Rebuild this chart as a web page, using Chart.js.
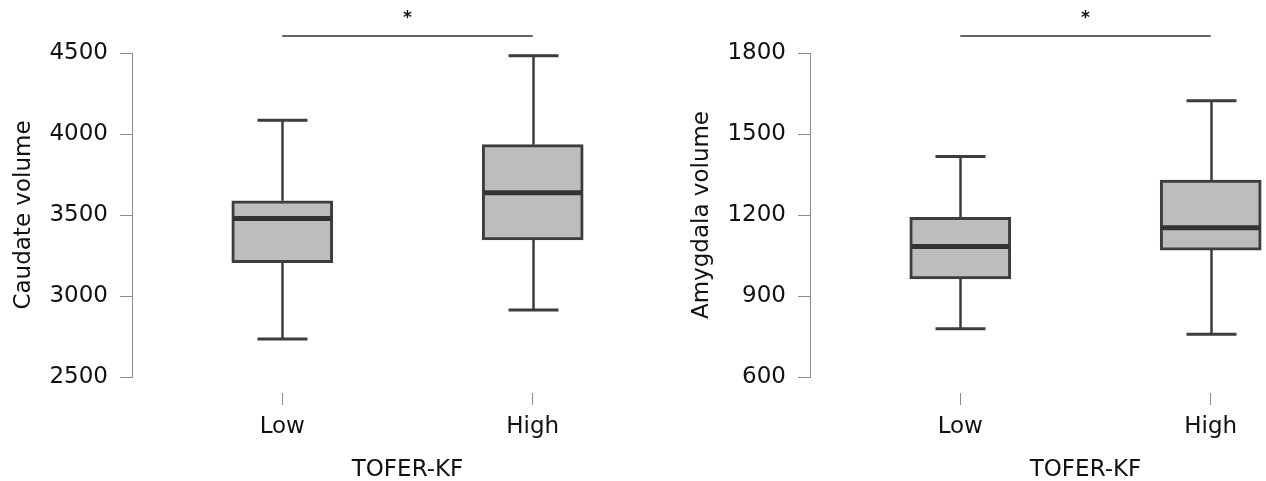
<!DOCTYPE html>
<html>
<head>
<meta charset="utf-8">
<script src="https://cdn.jsdelivr.net/npm/chart.js@4/dist/chart.umd.min.js"></script>
<style>
  html, body { margin: 0; padding: 0; background: #ffffff; overflow: hidden; width: 1266px; height: 481px; }
  .panel { position: absolute; top: 0; }
  #panel-left { left: 0; }
  #panel-right { left: 678px; }
</style>
</head>
<body>
<div class="panel" id="panel-left"><canvas id="caudateChart" width="683" height="481"></canvas></div>
<div class="panel" id="panel-right"><canvas id="amygdalaChart" width="683" height="481"></canvas></div>
<script>
// groups on the x axis
const groups = ["Low", "High"];
const xTitle = "TOFER-KF";

// caudate volume (box plot stats per group)
const caudateMin = [2735, 2914];
const caudateQ1 = [3205, 3346];
const caudateMedian = [3478, 3637];
const caudateQ3 = [3588, 3934];
const caudateMax = [4085, 4483];
const caudateTicks = [2500, 3000, 3500, 4000, 4500];

// amygdala volume
const amygdalaMin = [779, 758];
const amygdalaQ1 = [963, 1070];
const amygdalaMedian = [1083, 1153];
const amygdalaQ3 = [1191, 1329];
const amygdalaMax = [1417, 1623];
const amygdalaTicks = [600, 900, 1200, 1500, 1800];

Chart.defaults.font.family = "'DejaVu Sans', sans-serif";
Chart.defaults.font.size = 23;
Chart.defaults.color = "#111111";

const LINE = "#3d3d3d";
const AXIS = "#8c8c8c";

// whiskers, medians and the significance bracket, placed via the chart scales
function boxPlugin(stats) {
    return {
        id: "boxParts",
        beforeDatasetsDraw(chart) {
            const { ctx, scales: { x, y } } = chart;
            ctx.save();
            ctx.strokeStyle = LINE;
            ctx.lineCap = "butt";
            stats.min.forEach((lo, i) => {
                const px = Math.round(x.getPixelForValue(i + 1)) + 0.5;
                const yMax = y.getPixelForValue(stats.max[i]);
                const yMin = y.getPixelForValue(lo);
                ctx.lineWidth = 2.5;
                ctx.beginPath();
                ctx.moveTo(px, yMax);
                ctx.lineTo(px, y.getPixelForValue(stats.q3[i]));
                ctx.moveTo(px, y.getPixelForValue(stats.q1[i]));
                ctx.lineTo(px, yMin);
                ctx.stroke();
                ctx.lineWidth = 3;
                ctx.beginPath();
                ctx.moveTo(px - 25, yMax);
                ctx.lineTo(px + 25, yMax);
                ctx.moveTo(px - 25, yMin);
                ctx.lineTo(px + 25, yMin);
                ctx.stroke();
            });
            ctx.restore();
        },
        afterDatasetsDraw(chart) {
            const { ctx, scales: { x, y } } = chart;
            ctx.save();
            ctx.strokeStyle = "#333333";
            ctx.lineWidth = 5;
            stats.median.forEach((m, i) => {
                const px = x.getPixelForValue(i + 1);
                const py = y.getPixelForValue(m);
                ctx.beginPath();
                ctx.moveTo(px - 49, py);
                ctx.lineTo(px + 49, py);
                ctx.stroke();
            });
            // significance bracket between the two groups
            const x1 = x.getPixelForValue(1);
            const x2 = x.getPixelForValue(2);
            const by = chart.chartArea.top - 17;
            ctx.strokeStyle = "#333333";
            ctx.lineWidth = 1.5;
            ctx.beginPath();
            ctx.moveTo(x1, by);
            ctx.lineTo(x2, by);
            ctx.stroke();
            ctx.fillStyle = "#111111";
            ctx.font = "bold 17px 'DejaVu Sans'";
            ctx.textAlign = "center";
            ctx.textBaseline = "middle";
            ctx.fillText("*", (x1 + x2) / 2, by - 17);
            ctx.restore();
        }
    };
}

function makeBoxChart(canvasId, yLabel, ticks, stats) {
    const ctx = document.getElementById(canvasId).getContext("2d");
    return new Chart(ctx, {
        type: "bar",
        data: {
            datasets: [{
                data: groups.map((g, i) => ({ x: i + 1, y: [stats.q1[i], stats.q3[i]] })),
                backgroundColor: "#bdbdbd",
                borderColor: LINE,
                borderWidth: 3,
                borderSkipped: false,
                barThickness: 101
            }]
        },
        options: {
            responsive: false,
            animation: false,
            events: [],
            layout: { padding: { top: 53, left: 0, right: 0, bottom: 0 } },
            plugins: {
                legend: { display: false },
                tooltip: { enabled: false }
            },
            scales: {
                x: {
                    type: "linear",
                    position: "bottom",
                    min: 0.4,
                    max: 2.6,
                    offset: false,
                    border: { display: false },
                    grid: {
                        offset: false,
                        drawOnChartArea: false,
                        color: AXIS,
                        tickLength: 28,
                        tickBorderDash: [0, 16, 12, 100]
                    },
                    afterBuildTicks: scale => {
                        scale.ticks = groups.map((g, i) => ({ value: i + 1 }));
                    },
                    afterFit: scale => { scale.height = 104; },
                    ticks: {
                        padding: 8,
                        maxRotation: 0,
                        callback: v => groups[v - 1]
                    },
                    title: {
                        display: true,
                        text: xTitle,
                        padding: { top: 0, bottom: -3 }
                    }
                },
                y: {
                    min: ticks[0],
                    max: ticks[ticks.length - 1],
                    border: { display: true, color: AXIS, width: 1 },
                    grid: {
                        drawOnChartArea: false,
                        color: AXIS,
                        tickLength: 12
                    },
                    afterBuildTicks: scale => {
                        scale.ticks = ticks.map(v => ({ value: v }));
                    },
                    afterFit: scale => { scale.width = 132; },
                    ticks: {
                        padding: 12,
                        callback: v => String(v)
                    },
                    title: {
                        display: true,
                        text: yLabel,
                        padding: { top: 10, bottom: 0 }
                    }
                }
            }
        },
        plugins: [boxPlugin(stats)]
    });
}

makeBoxChart("caudateChart", "Caudate volume", caudateTicks, {
    min: caudateMin, q1: caudateQ1, median: caudateMedian, q3: caudateQ3, max: caudateMax
});
makeBoxChart("amygdalaChart", "Amygdala volume", amygdalaTicks, {
    min: amygdalaMin, q1: amygdalaQ1, median: amygdalaMedian, q3: amygdalaQ3, max: amygdalaMax
});
</script>
</body>
</html>
